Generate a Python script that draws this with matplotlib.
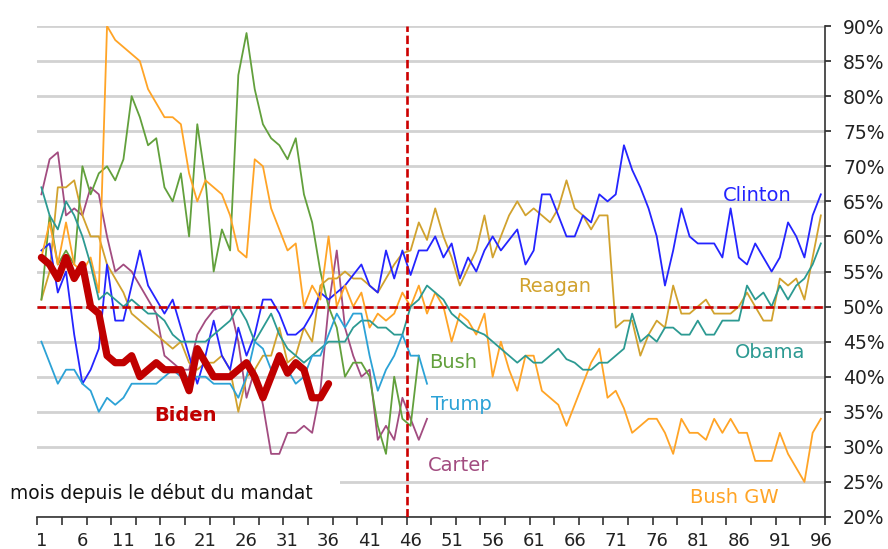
import matplotlib
matplotlib.use("Agg")
import matplotlib.pyplot as plt
from matplotlib.patches import Rectangle
import numpy as np

# Popularité (%) par mois depuis le début du mandat
biden = [57, 56, 54, 57, 54, 56, 50, 49, 43, 42, 42, 43, 40, 41, 42, 41, 41, 41, 38, 44,
         42, 40, 40, 40, 41, 42, 40, 37, 40, 43, 40.5, 42, 41, 37, 37, 39]

clinton = [58, 59, 52, 55, 46, 39, 41, 44, 56, 48, 48, 53, 58, 53, 51, 49,
           51, 47, 43, 39, 43, 48, 43, 41, 47, 43, 46, 51, 51, 49, 46, 46, 47, 49, 52,
           51, 52, 53,
           54.5, 56, 53, 52, 58, 54, 58, 54.5, 58, 58, 60, 57, 59, 54, 57, 55, 58, 60, 58,
           59.5, 61, 56, 58, 66, 66, 63, 60, 60, 63, 62, 66, 65, 66, 73,
           69.5, 67, 64, 60, 53, 58, 64, 60, 59, 59, 59, 57, 64, 57, 56, 59, 57, 55, 57,
           62, 60, 57, 63, 66]

reagan = [51, 55, 67, 67, 68, 63, 60, 60, 56, 54, 52, 49, 48, 47, 46, 45, 44, 45, 42, 41,
          42, 42, 43, 41,
          35, 40, 41, 43, 43, 47, 42, 43, 47, 45, 53, 54, 54, 55, 54, 54, 53, 52, 54, 56,
          57.6, 58,
          62, 59.5, 64, 60, 57, 53, 55.5, 58, 63, 57, 60, 63, 65, 63, 64, 63, 62, 64, 68,
          64, 63, 61, 63, 63, 47, 48,
          48, 43, 46, 48, 47, 53, 49, 49, 50, 51, 49, 49, 49, 50, 52, 50, 48, 48, 54, 53,
          54, 51, 57, 63]

obama = [67, 63, 61, 65, 63, 60, 56, 51, 52, 51, 50, 51, 50, 49, 49, 48, 46, 45, 45, 45,
         45, 46, 47, 48, 50, 48, 45, 47, 49, 46, 44, 43,
         42, 43, 44, 45, 45, 45, 47, 48, 48, 47, 47, 46, 46, 50, 51, 53, 52, 51, 49, 48,
         47, 46.5, 46, 45, 44, 43, 42, 43, 42, 42, 43, 44, 42.5, 42, 41, 41,
         42, 42, 43, 44, 49, 45, 46, 45, 47, 47, 46, 46, 48, 46, 46, 48, 48, 48, 53, 51,
         52, 50, 53, 51, 53, 54, 56, 59]

bush_gw = [57, 62, 56, 62, 56, 55, 57, 52,
           90, 88, 87, 86, 85, 81, 79, 77, 77, 76, 69, 65, 68, 67, 66, 63, 58, 57, 71, 70,
           64, 61, 58, 59,
           50, 53, 51, 60, 50, 53, 50, 52, 47, 49, 48, 49, 52, 50, 53, 49,
           52, 50, 45, 49, 48, 46, 49, 40, 45, 41, 38, 43, 43, 38, 37, 36, 33, 36, 39, 42,
           44, 37, 38, 35.5, 32, 33, 34, 34, 32, 29, 34, 32, 32, 31, 34, 32, 34, 32, 32, 28,
           28, 28, 32, 29, 27, 25, 32, 34]

bush = [51, 63, 56, 58, 56, 70, 66, 69, 70, 68, 71, 80,
        77, 73, 74, 67, 65, 69, 60, 76, 68, 55, 61, 58, 83, 89, 81, 76, 74, 73, 71, 74,
        66, 62, 55, 50, 47, 40, 42, 42, 40, 33, 29, 40, 34, 33, 43]

trump = [45, 42, 39, 41, 41, 39, 38, 35, 37, 36, 37, 39, 39, 39, 39, 40, 41, 40, 40, 40,
         40, 39, 39, 39, 37, 40, 45, 44, 41, 43, 41, 39, 40, 43, 43, 46, 49, 47, 49, 49,
         43, 38, 41, 43, 46, 43, 43, 39]

carter = [66, 71, 72, 63, 64, 63, 67, 66, 60, 55, 56, 55, 53, 51, 49,
          43, 42, 41, 41, 46, 48, 49.5, 50, 50, 45, 37, 41, 36, 29, 29, 32, 32, 33, 32,
          38, 50, 58, 47, 43, 40, 41, 31, 33, 31, 37, 34, 31, 34]

x_labels = list(range(1, 97, 5))
y_ticks = list(range(20, 95, 5))

series = [
    ("Carter", carter, "#a24c80", (51.8, 27.3)),
    ("Reagan", reagan, "#d1a22e", (63.5, 52.9)),
    ("Bush", bush, "#62a03c", (51.2, 42.0)),
    ("Clinton", clinton, "#2424ff", (88.2, 65.9)),
    ("Bush GW", bush_gw, "#ffa426", (85.4, 22.8)),
    ("Obama", obama, "#2c9a92", (89.8, 43.4)),
    ("Trump", trump, "#2ca2d6", (52.2, 36.1)),
]

plt.rcParams["font.family"] = "DejaVu Sans"

fig = plt.figure(figsize=(8.88, 5.49), dpi=100)
ax = fig.add_axes([0.042, 0.0583, 0.887, 0.8943])

for name, vals, color, (lx, ly) in series:
    months = np.arange(1, len(vals) + 1)
    ax.plot(months, vals, color=color, lw=1.3, zorder=2)
    ax.text(lx, ly, name, color=color, fontsize=14, ha="center", va="center", zorder=6)

# lignes de référence
ax.axhline(50, color="#cc0000", lw=1.9, ls=(0, (3.2, 1.4)), zorder=3)
ax.axvline(45.5, color="#cc0000", lw=1.9, ls=(0, (3.2, 1.4)), zorder=3)

months_b = np.arange(1, len(biden) + 1)
ax.plot(months_b, biden, color="#c00000", lw=5.2, solid_joinstyle="round",
        solid_capstyle="round", zorder=4)
ax.text(18.6, 34.5, "Biden", color="#c00000", fontsize=14, fontweight="bold",
        ha="center", va="center", zorder=6)

ax.set_xlim(0.5, 96.5)
ax.set_ylim(20, 90)

ax.set_yticks(y_ticks)
ax.set_yticklabels([f"{v}%" for v in y_ticks])
ax.yaxis.tick_right()
ax.tick_params(axis="y", which="major", length=4, width=1.2, pad=9,
               labelsize=13.5, colors="#222222")

ax.set_xticks(x_labels)
ax.set_xticklabels([str(v) for v in x_labels])
ax.set_xticks(np.arange(0.5, 97, 3), minor=True)
ax.tick_params(axis="x", which="major", length=0, pad=11, labelsize=13, colors="#222222")
ax.tick_params(axis="x", which="minor", length=6, width=1.2, color="#333333")

ax.yaxis.grid(True, color="#d2d2d2", lw=2.0, zorder=0)
ax.set_axisbelow(True)

for side in ["top", "left"]:
    ax.spines[side].set_visible(False)
for side in ["bottom", "right"]:
    ax.spines[side].set_color("#333333")
    ax.spines[side].set_linewidth(1.2)

# cache le quadrillage derrière le libellé de l'axe
ax.add_patch(Rectangle((0.5, 23.5), 36.9, 3.0, facecolor="white", edgecolor="none", zorder=1))
fig.text(10 / 888, 1 - 493 / 549, "mois depuis le début du mandat", fontsize=13.4,
         ha="left", va="center", color="#111111",
         bbox=dict(facecolor="white", edgecolor="none", pad=1))

fig.savefig("out.png", dpi=100)
